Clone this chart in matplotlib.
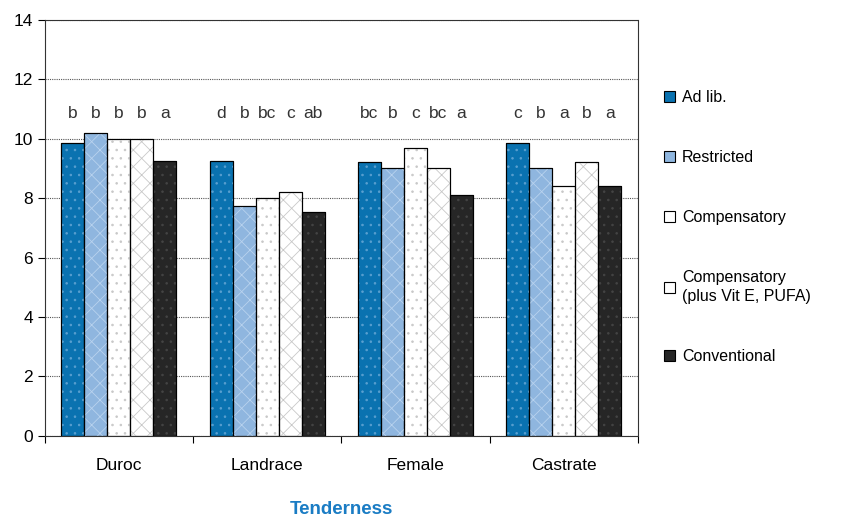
import numpy as np
import matplotlib
matplotlib.use("Agg")
import matplotlib.pyplot as plt

# Tenderness scores per group and feeding regime
groups = ["Duroc", "Landrace", "Female", "Castrate"]
treatments = ["Ad lib.", "Restricted", "Compensatory",
              "Compensatory\n(plus Vit E, PUFA)", "Conventional"]

ad_lib = [9.85, 9.25, 9.2, 9.85]
restricted = [10.2, 7.75, 9.0, 9.0]
compensatory = [10.0, 8.0, 9.7, 8.4]
compensatory_plus = [10.0, 8.2, 9.0, 9.2]
conventional = [9.25, 7.55, 8.1, 8.4]

# significance letters, one row per group
letters = [["b", "b", "b", "b", "a"],
           ["d", "b", "bc", "c", "ab"],
           ["bc", "b", "c", "bc", "a"],
           ["c", "b", "a", "b", "a"]]

series = [ad_lib, restricted, compensatory, compensatory_plus, conventional]
colors = ["#0a72b0", "#8fb6df", "white", "white", "#262626"]
hatches = ["..", "xx", "..", "xx", ".."]
hatch_cols = ["#5aa0d0", "#b8d2ee", "#c8c8c8", "#c8c8c8", "#444444"]

plt.rcParams["font.family"] = ["Liberation Sans", "DejaVu Sans"]
plt.rcParams["hatch.linewidth"] = 0.6

fig = plt.figure(figsize=(8.61, 5.22), dpi=100)
ax = fig.add_axes([0.052, 0.165, 0.689, 0.797])

x = np.arange(len(groups))
w = 0.155
for i, vals in enumerate(series):
    pos = x + (i - 2) * w
    ax.bar(pos, vals, w, color=colors[i], edgecolor="black", linewidth=0.8,
           label=treatments[i], zorder=2)
    ax.bar(pos, vals, w, fill=False, hatch=hatches[i], edgecolor=hatch_cols[i],
           linewidth=0, zorder=3)
    ax.bar(pos, vals, w, fill=False, edgecolor="black", linewidth=0.8, zorder=4)
    for j, p in enumerate(pos):
        ax.text(p, 10.85, letters[j][i], ha="center", va="center",
                fontsize=12.5, color="#333333")

ax.set_xlim(-0.5, 3.5)
ax.set_ylim(0, 14)
ax.set_yticks(range(0, 15, 2))
ax.set_xticks(x)
ax.set_xticklabels(groups, fontsize=12.5)
ax.set_xticks(np.arange(-0.5, 4, 1), minor=True)
ax.tick_params(axis="x", which="major", length=0, pad=16)
ax.tick_params(axis="x", which="minor", length=5, width=0.8)
ax.tick_params(axis="y", labelsize=12.5, length=5, width=0.8)
ax.yaxis.grid(True, color="#555555", linestyle=(0, (1, 1)), linewidth=0.8, zorder=0)
ax.set_axisbelow(True)
for side in ["left", "bottom", "top", "right"]:
    ax.spines[side].set_linestyle((0, (1, 1)))
    ax.spines[side].set_color("#333333")
    ax.spines[side].set_linewidth(0.8)

ax.set_xlabel("Tenderness", fontsize=13.5, fontweight="bold", color="#1a7cc4",
              labelpad=20)

leg = ax.legend(loc="upper left", bbox_to_anchor=(1.02, 0.865), frameon=False,
                fontsize=11.5, handlelength=0.7, handleheight=0.7,
                handletextpad=0.4, labelspacing=2.8)
for t in leg.get_texts():
    t.set_linespacing(1.4)

fig.savefig("out.png", dpi=100)
